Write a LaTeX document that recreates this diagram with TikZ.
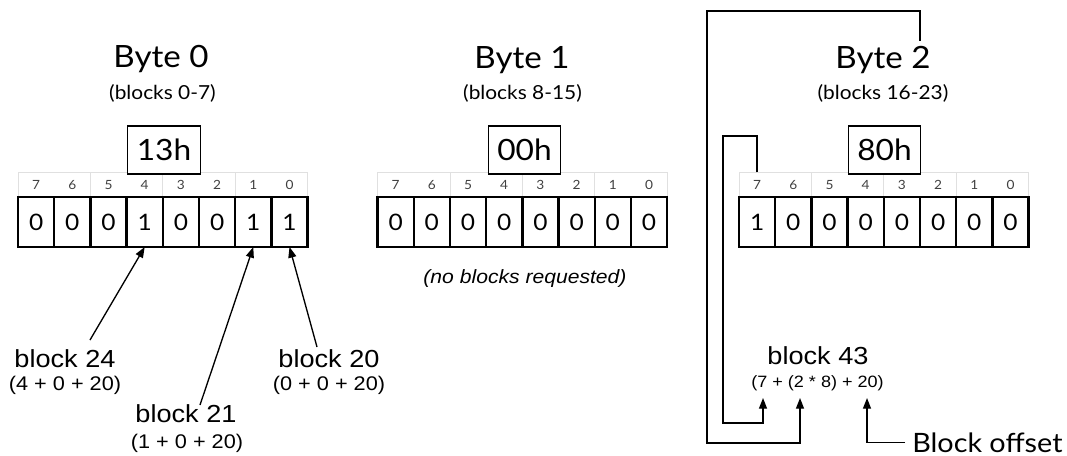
\documentclass[tikz,border=0pt]{standalone}
\usepackage{fontspec}
\setmainfont[FakeStretch=1.08]{Lato}
\newfontfamily\hel[FakeStretch=1.1]{Liberation Sans}
\usetikzlibrary{arrows.meta}
\begin{document}
\begin{tikzpicture}[x=0.75pt,y=-0.75pt,
  cellbox/.style={draw, line width=1.8pt, minimum width=27.15pt, minimum height=37.5pt, inner sep=0pt, outer sep=0pt, font=\fontsize{17}{17}\selectfont},
  bitno/.style={minimum width=27.15pt, minimum height=18.75pt, inner sep=0pt, outer sep=0pt, font=\fontsize{9.5}{9.5}\selectfont, text=black!75},
  hdr/.style={draw=black!12, line width=0.6pt},
  hexbox/.style={draw, line width=1pt, fill=white, minimum width=54.4pt, minimum height=36pt, inner sep=0pt, font=\fontsize{22}{22}\selectfont},
  ttl/.style={anchor=base, font=\fontsize{23}{23}\selectfont, inner sep=0pt},
  rng/.style={anchor=base, font=\fontsize{14.5}{14.5}\selectfont, inner sep=0pt},
  blk/.style={anchor=base, font=\hel\fontsize{18.5}{18.5}\selectfont, inner sep=0pt},
  frm/.style={anchor=base, font=\hel\fontsize{14.8}{14.8}\selectfont, inner sep=0pt},
  conn/.style={line width=1pt},
  arr/.style={conn, -{Triangle[length=8pt,width=6pt]}}
]
\useasboundingbox (0,0) rectangle (1067,456);

% header boxes
\foreach \L in {18,377.5,739}{
  \foreach \j in {0,...,3}{
    \draw[hdr] ({\L+72.4*\j},172) rectangle ++(72.4,25);
  }
}

% Byte 0
\foreach \i/\v in {0/0,1/0,2/0,3/1,4/0,5/0,6/1,7/1}{
  \pgfmathtruncatemacro\b{7-\i}
  \node[bitno] (h0-\b) at ({18+36.2*(\i+0.5)},185) {\b};
  \node[cellbox] (c0-\b) at ({18+36.2*(\i+0.5)},222) {\v};
}
% Byte 1
\foreach \i/\v in {0/0,1/0,2/0,3/0,4/0,5/0,6/0,7/0}{
  \pgfmathtruncatemacro\b{7-\i}
  \node[bitno] (h1-\b) at ({377.5+36.2*(\i+0.5)},185) {\b};
  \node[cellbox] (c1-\b) at ({377.5+36.2*(\i+0.5)},222) {\v};
}
% Byte 2
\foreach \i/\v in {0/1,1/0,2/0,3/0,4/0,5/0,6/0,7/0}{
  \pgfmathtruncatemacro\b{7-\i}
  \node[bitno] (h2-\b) at ({739+36.2*(\i+0.5)},185) {\b};
  \node[cellbox] (c2-\b) at ({739+36.2*(\i+0.5)},222) {\v};
}

% hex boxes
\node[hexbox] (x0) at (164,150) {13h};
\node[hexbox] (x1) at (524.5,150) {00h};
\node[hexbox] (x2) at (884.5,150) {80h};

% titles
\node[ttl] (t0) at (161,68) {Byte 0};
\node[rng] (r0) at (162.5,100) {(blocks 0-7)};
\node[ttl] (t1) at (522,69) {Byte 1};
\node[rng] (r1) at (522.5,100) {(blocks 8-15)};
\node[ttl] (t2) at (883,69) {Byte 2};
\node[rng] (r2) at (883,100) {(blocks 16-23)};

% Byte 0 labels
\node[blk] (l24) at (65,367) {block 24};
\node[frm] (f24) at (65,390) {(4 + 0 + 20)};
\node[blk] (l21) at (186,422) {block 21};
\node[frm] (f21) at (187,448) {(1 + 0 + 20)};
\node[blk] (l20) at (329,367) {block 20};
\node[frm] (f20) at (329,390) {(0 + 0 + 20)};

\coordinate (s24) at (90,340);
\coordinate (s21) at (200,405);
\coordinate (s20) at (317,347);
\draw[arr] (s24) -- (c0-4.south);
\draw[arr] (s21) -- (c0-1.south);
\draw[arr] (s20) -- (c0-0.south);

% Byte 1 note
\node[anchor=base, inner sep=0pt, font=\hel\itshape\fontsize{14.4}{14.4}\selectfont] (nb) at (525,283) {(no blocks requested)};

% Byte 2 labels
\node[blk] (l43) at (818,364) {block 43};
\node[frm, font=\hel\fontsize{12.3}{12.3}\selectfont] (f43) at (817.5,387) {(7 + (2 * 8) + 20)};
\node[anchor=base west, inner sep=0pt, font=\fontsize{20}{20}\selectfont] (off) at (912,452) {Block offset};

\coordinate (p7) at (763,398);
\coordinate (p2) at (800,398);
\coordinate (p20) at (867,398);
\coordinate (top2) at (920,41);

\draw[arr] (top2) |- (707,11) -- (707,443) -| (p2);
\draw[arr] (h2-7.north) |- (723,136) -- (723,423) -| (p7);
\draw[arr] ([xshift=-5.25pt]off.west) -| (p20);
\end{tikzpicture}
\end{document}
